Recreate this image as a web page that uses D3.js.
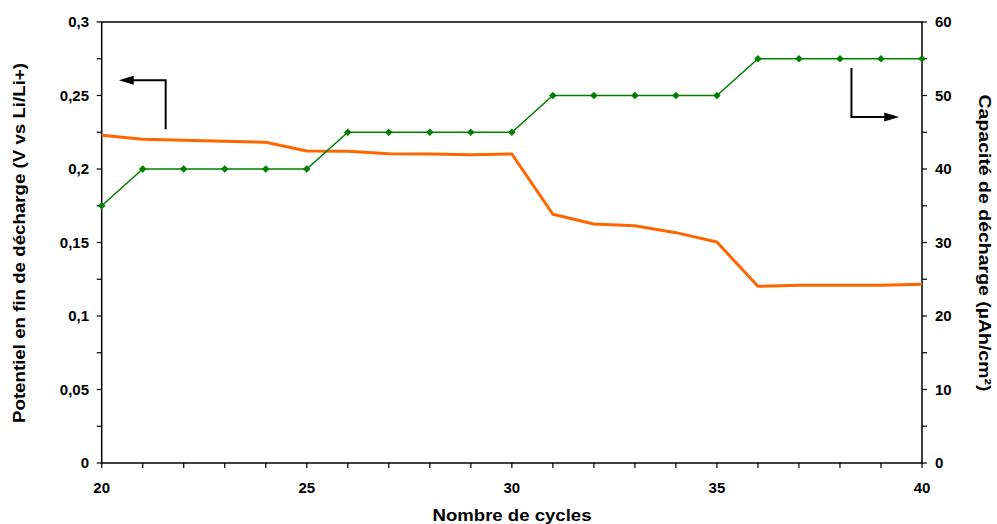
<!DOCTYPE html>
<html><head><meta charset="utf-8">
<script src="https://cdn.jsdelivr.net/npm/d3@7"></script>
<style>body{margin:0;background:#fff}svg{display:block}text{font-family:"Liberation Sans",Arial,sans-serif;font-weight:bold;fill:#000}</style>
</head><body>
<svg id="c" width="997" height="524"></svg>
<script>
const cycles = [20,21,22,23,24,25,26,27,28,29,30,31,32,33,34,35,36,37,38,39,40];
const potentiel = [0.2229,0.2202,0.2195,0.2188,0.2182,0.2122,0.2120,0.2104,0.2102,0.2097,0.2102,0.1692,0.1626,0.1614,0.1567,0.1503,0.1202,0.1209,0.1209,0.1210,0.1216];
const capacite = [35,40,40,40,40,40,45,45,45,45,45,50,50,50,50,50,55,55,55,55,55];
const xLabels = [20,25,30,35,40];
const leftTicks = [0,0.05,0.1,0.15,0.2,0.25,0.3];
const rightTicks = [0,10,20,30,40,50,60];
const xTitle = "Nombre de cycles";
const yLeftTitle = "Potentiel en fin de décharge (V vs Li/Li+)";
const yRightTitle = "Capacité de décharge (µAh/cm²)";

const svg = d3.select("#c");
const L=101.7, R=922, T=22, B=463;
const x = d3.scaleLinear().domain([20,40]).range([L,R]);
const yl = d3.scaleLinear().domain([0,0.3]).range([B,T]);
const yr = d3.scaleLinear().domain([0,60]).range([B,T]);
const fmt = v => String(+v.toFixed(3)).replace(".", ",");

// axes lines
const g = svg.append("g").attr("stroke","#000").attr("stroke-width",1.5).attr("fill","none");
g.append("path").attr("d",`M${L},${T}H${R}V${B}H${L}Z`);

// x ticks
const xt = svg.append("g").attr("stroke","#000").attr("stroke-width",1.2);
d3.range(20,41).forEach(c=>xt.append("line").attr("x1",x(c)).attr("x2",x(c)).attr("y1",B).attr("y2",B+5));
xLabels.forEach(c=>svg.append("text").attr("x",x(c)).attr("y",493).attr("text-anchor","middle").attr("font-size","15px").text(c));

// left ticks
d3.range(0,0.3001,0.025).forEach(v=>xt.append("line").attr("x1",L-5).attr("x2",L).attr("y1",yl(v)).attr("y2",yl(v)));
leftTicks.forEach(v=>svg.append("text").attr("x",89).attr("y",yl(v)).attr("dy","0.36em").attr("text-anchor","end").attr("font-size","15px").text(fmt(v)));
// right ticks
d3.range(0,60.01,5).forEach(v=>xt.append("line").attr("x1",R).attr("x2",R+5).attr("y1",yr(v)).attr("y2",yr(v)));
rightTicks.forEach(v=>svg.append("text").attr("x",935).attr("y",yr(v)).attr("dy","0.36em").attr("text-anchor","start").attr("font-size","15px").text(v));

// titles
svg.append("text").attr("x",512).attr("y",521).attr("text-anchor","middle").attr("font-size","16px")
  .attr("textLength",159).attr("lengthAdjust","spacingAndGlyphs").text(xTitle);
svg.append("text").attr("transform","translate(25,243) rotate(-90)").attr("text-anchor","middle").attr("font-size","16px")
  .attr("textLength",360).attr("lengthAdjust","spacingAndGlyphs").text(yLeftTitle);
svg.append("text").attr("transform","translate(979,243) rotate(90)").attr("text-anchor","middle").attr("font-size","16px")
  .attr("textLength",297).attr("lengthAdjust","spacingAndGlyphs").text(yRightTitle);

// orange line
svg.append("path").datum(cycles.map((c,i)=>[c,potentiel[i]]))
  .attr("fill","none").attr("stroke","#FF6600").attr("stroke-width",3).attr("stroke-linejoin","round")
  .attr("d",d3.line().x(d=>x(d[0])).y(d=>yl(d[1])));

// green line
svg.append("path").datum(cycles.map((c,i)=>[c,capacite[i]]))
  .attr("fill","none").attr("stroke","#008000").attr("stroke-width",1.5)
  .attr("d",d3.line().x(d=>x(d[0])).y(d=>yr(d[1])));
svg.append("g").selectAll("path").data(cycles.map((c,i)=>[c,capacite[i]])).join("path")
  .attr("d",d=>{const px=x(d[0]),py=yr(d[1]),s=3.8;return `M${px},${py-s}L${px+s},${py}L${px},${py+s}L${px-s},${py}Z`;})
  .attr("fill","#008000");

// arrows (annotations)
const ag = svg.append("g");
// left arrow
ag.append("path").attr("fill","none").attr("stroke","#000").attr("stroke-width",2)
  .attr("d",`M${x(21.56)},${yl(0.227)}V${yl(0.2603)}H${x(20.74)}`);
ag.append("path").attr("fill","#000")
  .attr("d",`M${x(20.42)},${yl(0.2603)}L${x(20.78)},${yl(0.2603)-4.5}L${x(20.78)},${yl(0.2603)+4.5}Z`);
// right arrow
ag.append("path").attr("fill","none").attr("stroke","#000").attr("stroke-width",2)
  .attr("d",`M${x(38.28)},${yr(53.74)}V${yr(47.07)}H${x(39.12)}`);
ag.append("path").attr("fill","#000")
  .attr("d",`M${x(39.44)},${yr(47.07)}L${x(39.08)},${yr(47.07)-4.5}L${x(39.08)},${yr(47.07)+4.5}Z`);
</script>
</body></html>
